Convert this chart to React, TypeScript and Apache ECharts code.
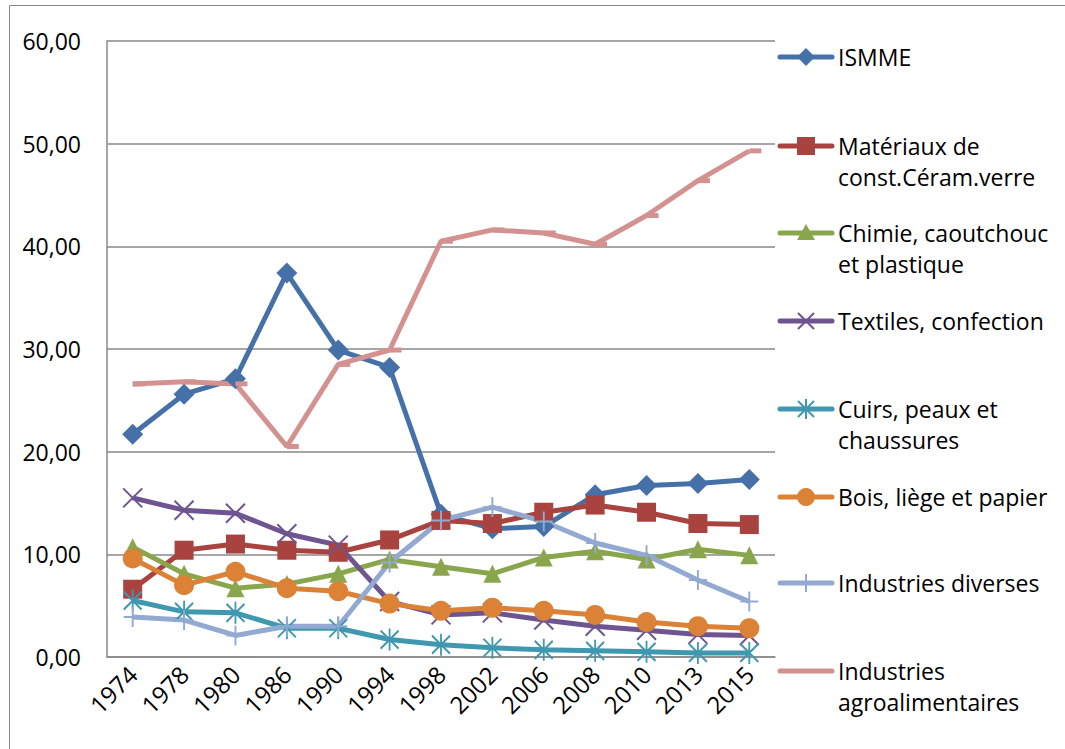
import React, { useEffect, useRef } from "react";
import * as echarts from "echarts";

const years = ["1974", "1978", "1980", "1986", "1990", "1994", "1998", "2002", "2006", "2008", "2010", "2013", "2015"];

const ismme = [21.7, 25.6, 27.1, 37.4, 29.9, 28.2, 13.9, 12.5, 12.7, 15.8, 16.7, 16.9, 17.3];
const materiaux = [6.6, 10.4, 11.0, 10.4, 10.2, 11.4, 13.3, 13.0, 14.1, 14.8, 14.1, 13.0, 12.9];
const chimie = [10.7, 8.1, 6.7, 7.1, 8.1, 9.5, 8.8, 8.1, 9.7, 10.3, 9.5, 10.5, 9.9];
const textiles = [15.5, 14.3, 14.0, 12.0, 10.9, 5.4, 4.1, 4.3, 3.6, 3.0, 2.6, 2.2, 2.1];
const cuirs = [5.5, 4.4, 4.3, 2.8, 2.8, 1.7, 1.2, 0.9, 0.7, 0.6, 0.5, 0.4, 0.4];
const bois = [9.6, 7.0, 8.3, 6.7, 6.4, 5.2, 4.5, 4.8, 4.5, 4.1, 3.4, 3.0, 2.8];
const diverses = [3.9, 3.6, 2.1, 3.0, 3.0, 9.2, 13.3, 14.6, 13.2, 11.1, 9.9, 7.5, 5.4];
const agro = [26.6, 26.8, 26.6, 20.5, 28.5, 29.9, 40.5, 41.6, 41.3, 40.2, 43.0, 46.4, 49.3];

const yTicks = [0, 10, 20, 30, 40, 50, 60];

const names = [
  "ISMME",
  "Matériaux de\nconst.Céram.verre",
  "Chimie, caoutchouc\net plastique",
  "Textiles, confection",
  "Cuirs, peaux et\nchaussures",
  "Bois, liège et papier",
  "Industries diverses",
  "Industries\nagroalimentaires",
];
const colors = ["#4571A8", "#A9433F", "#89A64D", "#6E5490", "#3F98AF", "#DB8237", "#92A9D1", "#D39290"];

const FONT = "'Open Sans', sans-serif";

export default function App() {
  const ref = useRef<HTMLDivElement>(null);
  useEffect(() => {
    if (!ref.current) return;
    const chart = echarts.init(ref.current, null, { renderer: "svg" });
    const dataSets = [ismme, materiaux, chimie, textiles, cuirs, bois, diverses, agro];
    const symbols: any[] = [
      { symbol: "diamond", symbolSize: 21 },
      { symbol: "rect", symbolSize: 19 },
      { symbol: "triangle", symbolSize: 18 },
      { symbol: "path://M0,0L19,19M19,0L0,19", symbolSize: 19, stroke: true },
      { symbol: "path://M0,2L18,20M18,2L0,20M9,0L9,22", symbolSize: [18, 22], stroke: true },
      { symbol: "circle", symbolSize: 20 },
      { symbol: "path://M9,0L9,20M0,10L18,10", symbolSize: [18, 20], stroke: true },
      { symbol: "rect", symbolSize: [12, 5], symbolOffset: [6, 0] },
    ];
    const series = dataSets.map((d, i) => {
      const s = symbols[i];
      return {
        name: names[i],
        type: "line",
        data: d,
        symbol: s.symbol,
        symbolSize: s.symbolSize,
        symbolOffset: s.symbolOffset || [0, 0],
        showAllSymbol: true,
        lineStyle: { color: colors[i], width: 5 },
        itemStyle: s.stroke
          ? { color: colors[i], borderColor: colors[i], borderWidth: 2 }
          : { color: colors[i], borderWidth: 0 },
        emphasis: { disabled: true },
      };
    });

    // custom legend
    const legendY = [57, 146, 233, 321, 409, 497, 583, 671];
    const graphics: any[] = [
      {
        type: "rect",
        shape: { x: 9.5, y: 5.5, width: 1100, height: 800 },
        style: { fill: "none", stroke: "#8a8a8a", lineWidth: 1 },
        silent: true,
      },
    ];
    const cx = 806;
    legendY.forEach((y, i) => {
      const c = colors[i];
      graphics.push({
        type: "line",
        shape: { x1: 780, y1: y, x2: 832, y2: y },
        style: { stroke: c, lineWidth: 5, lineCap: "round" },
      });
      if (i === 0) {
        graphics.push({ type: "polygon", shape: { points: [[cx, y - 9], [cx + 9, y], [cx, y + 9], [cx - 9, y]] }, style: { fill: c } });
      } else if (i === 1) {
        graphics.push({ type: "rect", shape: { x: cx - 9, y: y - 9, width: 18, height: 18 }, style: { fill: c } });
      } else if (i === 2) {
        graphics.push({ type: "polygon", shape: { points: [[cx, y - 9], [cx + 9, y + 7], [cx - 9, y + 7]] }, style: { fill: c } });
      } else if (i === 3) {
        graphics.push({ type: "line", shape: { x1: cx - 8, y1: y - 8, x2: cx + 8, y2: y + 8 }, style: { stroke: c, lineWidth: 2 } });
        graphics.push({ type: "line", shape: { x1: cx + 8, y1: y - 8, x2: cx - 8, y2: y + 8 }, style: { stroke: c, lineWidth: 2 } });
      } else if (i === 4) {
        graphics.push({ type: "line", shape: { x1: cx - 8, y1: y - 8, x2: cx + 8, y2: y + 8 }, style: { stroke: c, lineWidth: 2 } });
        graphics.push({ type: "line", shape: { x1: cx + 8, y1: y - 8, x2: cx - 8, y2: y + 8 }, style: { stroke: c, lineWidth: 2 } });
        graphics.push({ type: "line", shape: { x1: cx, y1: y - 10, x2: cx, y2: y + 10 }, style: { stroke: c, lineWidth: 2 } });
      } else if (i === 5) {
        graphics.push({ type: "circle", shape: { cx, cy: y, r: 9 }, style: { fill: c } });
      } else if (i === 6) {
        graphics.push({ type: "line", shape: { x1: cx, y1: y - 9, x2: cx, y2: y + 9 }, style: { stroke: c, lineWidth: 2 } });
      }
      const lines = names[i].split("\n");
      lines.forEach((t, k) => {
        graphics.push({
          type: "text",
          x: 838,
          y: y + k * 31,
          style: {
            text: t,
            fontFamily: FONT,
            fontSize: 23,
            fill: "#000",
            textVerticalAlign: "middle",
            verticalAlign: "middle",
          },
        });
      });
    });

    chart.setOption({
      animation: false,
      backgroundColor: "#fff",
      grid: { left: 107, right: 290, top: 41, bottom: 92, containLabel: false },
      xAxis: {
        type: "category",
        data: years,
        boundaryGap: true,
        axisLine: { show: true, lineStyle: { color: "#888", width: 1.5 } },
        axisTick: { show: false },
        axisLabel: { rotate: 45, fontFamily: FONT, fontSize: 24, color: "#000", margin: 13, interval: 0 },
        splitLine: { show: false },
      },
      yAxis: {
        type: "value",
        min: yTicks[0],
        max: yTicks[yTicks.length - 1],
        interval: 10,
        axisLine: { show: true, lineStyle: { color: "#888", width: 1.5 } },
        axisTick: { show: false },
        axisLabel: {
          fontFamily: FONT,
          fontSize: 23,
          color: "#000",
          margin: 26,
          formatter: (v: number) => v.toFixed(2).replace(".", ","),
        },
        splitLine: { show: true, lineStyle: { color: "#888", width: 1.5 } },
      },
      series,
      graphic: graphics,
    });
    return () => chart.dispose();
  }, []);
  return <div ref={ref} style={{ position: "fixed", left: 0, top: 0, width: 1065, height: 749 }} />;
}
